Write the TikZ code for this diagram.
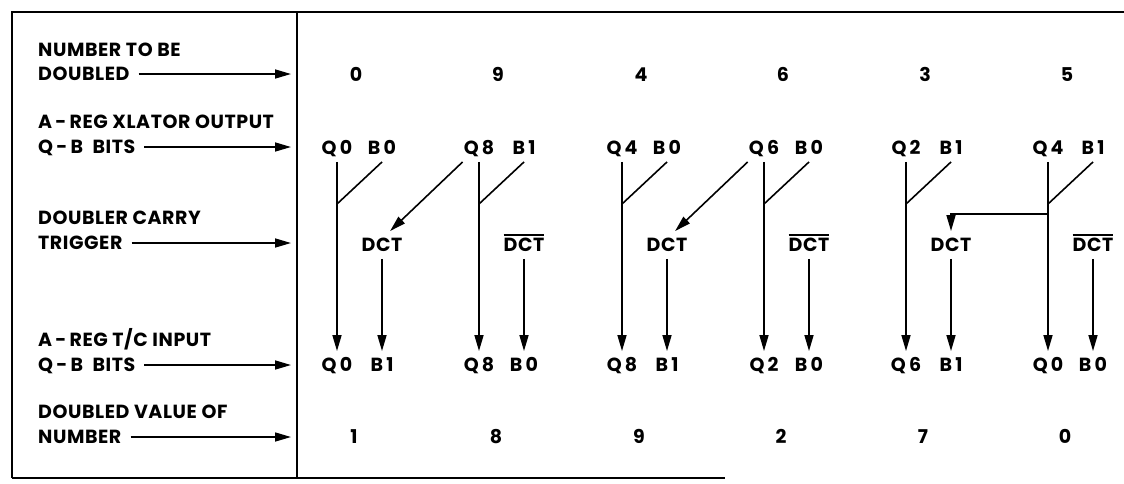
\documentclass[tikz,border=0pt]{standalone}
\usepackage{fontspec}
\setmainfont{Poppins}[LetterSpace=3]
\usetikzlibrary{arrows.meta}

\newcommand{\notdct}{\vbox{\hrule height 1.6pt\kern 2.2pt\hbox{DCT}}}

\begin{document}
\begin{tikzpicture}[x=1pt,y=-1pt,
    lbl/.style={anchor=west,inner sep=0pt,text height=13.5pt,text depth=0pt,
      font=\fontsize{19}{22}\selectfont\bfseries},
    txt/.style={inner xsep=1pt,inner ysep=7pt,text height=13.5pt,text depth=0pt,
      font=\fontsize{19}{22}\selectfont\bfseries},
    sig/.style={line width=1.6pt,-{Triangle[length=16pt,width=9pt]}},
    wire/.style={line width=1.6pt}]
  \useasboundingbox (0,0) rectangle (1124,483);
  % frame
  \draw[wire] (12,478) -- (12,12) -- (1124,12);
  \draw[wire] (297,12) -- (297,478);
  \draw[wire] (12,478) -- (725,478);
  \coordinate (divtop) at (291,12);
  % row labels
  \node[lbl] (nt) at (38,50) {NUMBER TO BE};
  \node[lbl] (nd) at (38,74) {DOUBLED};
  \node[lbl] (xo) at (38,122) {A\,-\,REG XLATOR OUTPUT};
  \node[lbl] (xb) at (38,147) {Q\,-\,B\enspace BITS};
  \node[lbl] (ct) at (38,218) {DOUBLER CARRY};
  \node[lbl] (cg) at (38,243) {TRIGGER};
  \node[lbl] (ti) at (38,340) {A\,-\,REG T/C INPUT};
  \node[lbl] (tb) at (38,365) {Q\,-\,B\enspace BITS};
  \node[lbl] (dv) at (38,412) {DOUBLED VALUE OF};
  \node[lbl] (dn) at (38,437) {NUMBER};
  \foreach \n in {nd,xb,cg,tb,dn}
    \draw[sig,shorten <=9pt] (\n.east) -- (\n.east -| divtop);
  % columns
  \foreach \x/\nm/\qa/\ba/\dc/\qb/\bb/\vl [count=\i] in
    {337/0/0/0/DCT/0/1/1, 479/9/8/1/\notdct/8/0/8, 622/4/4/0/DCT/8/1/9,
     764/6/6/0/\notdct/2/0/2, 906/3/2/1/DCT/6/1/7, 1048/5/4/1/\notdct/0/0/0}
  {
    \node[txt] (num\i) at (\x+19,75) {\nm};
    \node[txt] (qa\i) at (\x,148) {Q\,\qa};
    \node[txt] (ba\i) at (\x+45,148) {B\,\ba};
    \node[txt] (dct\i) at (\x+45,245) {\dc};
    \node[txt] (qb\i) at (\x,365) {Q\,\qb};
    \node[txt] (bb\i) at (\x+45,365) {B\,\bb};
    \node[txt] (val\i) at (\x+17,437) {\vl};
    \coordinate (jn\i) at (\x,204);
    \draw[sig] (qa\i) -- (qb\i);
    \draw[wire] (ba\i.south) -- (jn\i);
    \draw[sig] (dct\i) -- (bb\i);
  }
  % carries
  \draw[sig] (qa2.south west) -- (dct1.60);
  \draw[sig] (qa4.south west) -- (dct3.60);
  \coordinate (el) at (1048,214);
  \draw[sig] (el) -| (dct5.north);
\end{tikzpicture}
\end{document}
